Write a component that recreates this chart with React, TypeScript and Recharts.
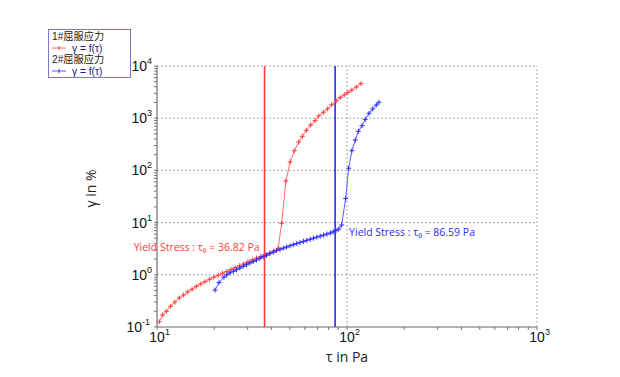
import React from 'react';
import {
  ScatterChart, Scatter, XAxis, YAxis, ReferenceLine, ReferenceDot, Label,
} from 'recharts';

// Series 1 (1#屈服应力): τ in Pa, γ in %
const series1Tau = [
  10.28, 10.7, 11.2, 11.8, 12.4, 13.1, 13.8, 14.5, 15.3, 16.1, 17.0, 17.9, 18.9, 19.9,
  21.0, 22.1, 23.3, 24.5, 25.8, 27.2, 28.6, 30.1, 31.7, 33.4, 35.2, 37.1, 39.1, 41.2,
  43.4, 45.3, 47.7, 50.2, 52.8, 55.7, 58.2, 61.1, 64.4, 67.9, 71.0, 75.1, 79.1, 83.0,
  87.8, 92.2, 96.8, 101, 106, 112, 118.6,
];
const series1Gamma = [
  0.126, 0.17, 0.2, 0.25, 0.3, 0.36, 0.41, 0.47, 0.53, 0.6, 0.67, 0.74, 0.82, 0.9,
  0.98, 1.07, 1.16, 1.26, 1.37, 1.49, 1.62, 1.77, 1.93, 2.09, 2.25, 2.42, 2.6, 2.85,
  3.2, 9.7, 62.7, 145, 238, 350, 450, 586, 741, 896, 1108, 1300, 1514, 1804,
  2153, 2490, 2800, 3100, 3470, 3950, 4600,
];

// Series 2 (2#屈服应力)
const series2Tau = [
  20.2, 21.2, 22.5, 23.3, 24.2, 25.2, 26.2, 27.3, 28.4, 29.6, 30.8, 32.1, 33.4, 34.8,
  36.2, 37.7, 39.3, 40.9, 42.6, 44.4, 46.2, 48.1, 50.1, 52.2, 54.4, 56.6, 59.0, 61.4,
  64.0, 66.6, 69.4, 72.3, 75.3, 78.4, 81.6, 84.5, 87.5, 90.5, 93.7, 98.4, 102, 106,
  110.6, 114.8, 120, 124.8, 130.6, 136.5, 142.6, 147.3,
];
const series2Gamma = [
  0.51, 0.71, 0.9, 1.0, 1.09, 1.17, 1.25, 1.35, 1.45, 1.56, 1.68, 1.8, 1.93, 2.07,
  2.22, 2.38, 2.55, 2.72, 2.9, 3.07, 3.24, 3.41, 3.59, 3.77, 3.96, 4.16, 4.37, 4.58,
  4.8, 5.03, 5.27, 5.51, 5.76, 6.02, 6.3, 6.65, 7.0, 7.5, 9.0, 29, 110, 238,
  382, 561, 718, 953, 1240, 1500, 1790, 2020,
];

const yieldStress1 = 36.82;
const yieldStress2 = 86.59;
const yieldLabel1 = 'Yield Stress : τ₀  = 36.82 Pa';
const yieldLabel2 = 'Yield Stress : τ₀  = 86.59 Pa';

const xTicks = [10, 20, 30, 40, 50, 60, 70, 80, 90, 100, 200, 300, 400, 500, 600, 700, 800, 900, 1000];
const xMajor = [10, 100, 1000];
const yTicks = [
  0.1, 0.2, 0.3, 0.4, 0.5, 0.6, 0.7, 0.8, 0.9,
  1, 2, 3, 4, 5, 6, 7, 8, 9,
  10, 20, 30, 40, 50, 60, 70, 80, 90,
  100, 200, 300, 400, 500, 600, 700, 800, 900,
  1000, 2000, 3000, 4000, 5000, 6000, 7000, 8000, 9000, 10000,
];
const yMajor = [0.1, 1, 10, 100, 1000, 10000];

const legendTitles = ['1#屈服应力', '2#屈服应力'];
const legendSeriesName = 'γ = f(τ)';
const xTitle = 'τ in Pa';
const yTitle = 'γ in %';

const red = '#ff3b3b';
const redLine = '#ff6a6a';
const blue = '#2a2aff';
const blueLine = '#5a5aff';

const data1 = series1Tau.map((x, i) => ({ x, y: series1Gamma[i] }));
const data2 = series2Tau.map((x, i) => ({ x, y: series2Gamma[i] }));

const tickFont = '"Liberation Sans", Arial, sans-serif';
const textFont = '"Open Sans", "Noto Sans", sans-serif';
const legendFont = '"Liberation Sans", "Noto Sans CJK SC", sans-serif';

const isMajor = (list: number[], v: number) => list.some((m) => Math.abs(m - v) < 1e-9);
const exp = (v: number) => String(Math.round(Math.log10(v)));

const XTick = (props: any) => {
  const { x, y, payload } = props;
  if (!isMajor(xMajor, payload.value)) return null;
  return (
    <g>
      <text x={x} y={y + 10} textAnchor="middle" fontSize={14} fontFamily={tickFont} fill="#111">10</text>
      <text x={x + 8} y={y + 3} textAnchor="start" fontSize={9} fontFamily={tickFont} fill="#111">{exp(payload.value)}</text>
    </g>
  );
};

const YTick = (props: any) => {
  const { x, y, payload } = props;
  if (!isMajor(yMajor, payload.value)) return null;
  const e = exp(payload.value);
  const ew = e.length * 5;
  return (
    <g>
      <text x={x - ew} y={y + 5} textAnchor="end" fontSize={14} fontFamily={tickFont} fill="#111">10</text>
      <text x={x - ew} y={y - 2} textAnchor="start" fontSize={9} fontFamily={tickFont} fill="#111">{e}</text>
    </g>
  );
};

const makePlus = (color: string) => (props: any) => {
  const { cx, cy } = props;
  if (cx == null || cy == null) return null;
  return (
    <g>
      <line x1={cx - 2.5} y1={cy} x2={cx + 2.5} y2={cy} stroke={color} strokeWidth={1} />
      <line x1={cx} y1={cy - 2.5} x2={cx} y2={cy + 2.5} stroke={color} strokeWidth={1} />
    </g>
  );
};

const LegendMarker = ({ color, lineColor }: { color: string; lineColor: string }) => (
  <svg width={16} height={8} style={{ display: 'block', marginRight: 4, flex: 'none' }}>
    <line x1={0} y1={4} x2={14} y2={4} stroke={lineColor} strokeWidth={1} />
    <line x1={7} y1={2} x2={7} y2={6} stroke={color} strokeWidth={1} />
  </svg>
);

const rowStyle: React.CSSProperties = {
  height: 11.5,
  lineHeight: '11.5px',
  whiteSpace: 'nowrap',
  overflow: 'visible',
  fontFamily: legendFont,
  fontSize: 10.2,
};

export default function App() {
  const gridStroke = '#a8a8a8';
  return (
    <div style={{ position: 'absolute', left: 0, top: 0, width: 620, height: 377, background: '#fff' }}>
      <ScatterChart width={620} height={377} margin={{ top: 66, right: 83, bottom: 20, left: 97 }}>
        <XAxis
          type="number"
          dataKey="x"
          scale="log"
          domain={[10, 1000]}
          ticks={xTicks}
          interval={0}
          allowDataOverflow
          tick={<XTick />}
          tickSize={3}
          tickLine={{ stroke: '#777' }}
          axisLine={{ stroke: '#666' }}
          height={30}
        >
          <Label
            content={(p: any) => {
              const vb = p.viewBox;
              return (
                <text x={vb.x + vb.width / 2} y={vb.y + 35} textAnchor="middle" fontSize={14} fontFamily={textFont} fill="#222">
                  {xTitle}
                </text>
              );
            }}
          />
        </XAxis>
        <YAxis
          type="number"
          dataKey="y"
          scale="log"
          domain={[0.1, 10000]}
          ticks={yTicks}
          interval={0}
          allowDataOverflow
          tick={<YTick />}
          tickSize={3}
          tickLine={{ stroke: '#777' }}
          axisLine={{ stroke: '#555' }}
          width={60}
        >
          <Label
            content={(p: any) => {
              const vb = p.viewBox;
              const cx = vb.x - 7;
              const cy = vb.y + vb.height / 2 - 8;
              return (
                <text x={cx} y={cy} transform={`rotate(-90 ${cx} ${cy})`} textAnchor="middle" dominantBaseline="central" fontSize={14} fontFamily={textFont} fill="#222">
                  {yTitle}
                </text>
              );
            }}
          />
        </YAxis>

        {xMajor.slice(1).map((v) => (
          <ReferenceLine key={'gx' + v} x={v} stroke={gridStroke} strokeDasharray="2 2" />
        ))}
        {yMajor.slice(1).map((v) => (
          <ReferenceLine key={'gy' + v} y={v} stroke={gridStroke} strokeDasharray="2 2" />
        ))}

        <Scatter
          data={data1}
          line={{ stroke: redLine, strokeWidth: 1 }}
          lineType="joint"
          shape={makePlus(red)}
          fill={red}
          isAnimationActive={false}
        />
        <Scatter
          data={data2}
          line={{ stroke: blueLine, strokeWidth: 1 }}
          lineType="joint"
          shape={makePlus(blue)}
          fill={blue}
          isAnimationActive={false}
        />

        <ReferenceLine x={yieldStress1} stroke={red} strokeWidth={1.6} />
        <ReferenceLine x={yieldStress2} stroke={blue} strokeWidth={1.6} />
        <ReferenceDot
          x={yieldStress1}
          y={3.4}
          r={0}
          fill="none"
          stroke="none"
          label={{ value: yieldLabel1, position: 'left', offset: 5, fill: red, fontSize: 10.5, fontFamily: textFont }}
        />
        <ReferenceDot
          x={yieldStress2}
          y={6.4}
          r={0}
          fill="none"
          stroke="none"
          label={{ value: yieldLabel2, position: 'right', offset: 14, fill: blue, fontSize: 10.5, fontFamily: textFont }}
        />
      </ScatterChart>

      <div
        style={{
          position: 'absolute',
          left: 48,
          top: 29,
          width: 83,
          height: 49,
          border: '1px solid #7a7ac8',
          padding: '1px 0 0 3px',
          boxSizing: 'border-box',
        }}
      >
        {[0, 1].map((i) => (
          <div key={i}>
            <div style={{ ...rowStyle, color: '#222' }}>{legendTitles[i]}</div>
            <div style={{ ...rowStyle, color: '#1a1a80', display: 'flex', alignItems: 'center' }}>
              <LegendMarker color={i === 0 ? red : blue} lineColor={i === 0 ? redLine : blueLine} />
              <span>{legendSeriesName}</span>
            </div>
          </div>
        ))}
      </div>
    </div>
  );
}
